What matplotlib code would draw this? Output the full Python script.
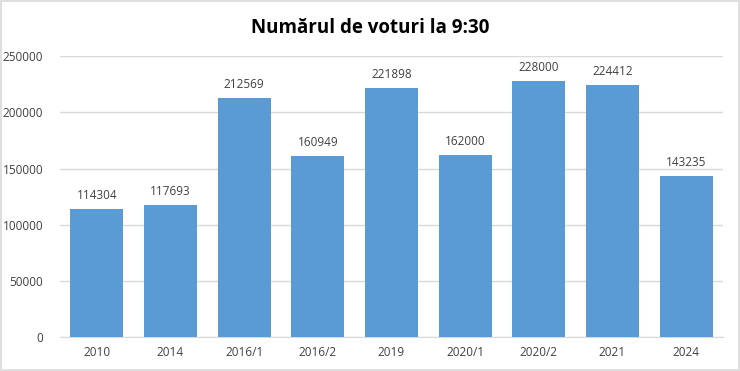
import matplotlib
matplotlib.use("Agg")

import matplotlib.pyplot as plt
from matplotlib.patches import Rectangle

# ---------------- Data ----------------
categories = ["2010", "2014", "2016/1", "2016/2", "2019", "2020/1", "2020/2", "2021", "2024"]
votes = [114304, 117693, 212569, 160949, 221898, 162000, 228000, 224412, 143235]

plt.rcParams["font.family"] = ["Open Sans", "DejaVu Sans"]

fig = plt.figure(figsize=(7.4, 3.71), dpi=100)
ax = fig.add_axes([0.081, 0.091, 0.896, 0.758])

x = range(len(categories))
ax.bar(x, votes, width=0.72, color="#5B9BD5", zorder=3)

for xi, v in zip(x, votes):
    ax.text(xi, v + 6000, str(v), ha="center", va="bottom", fontsize=8.5, color="#404040")

ax.set_xlim(-0.5, len(categories) - 0.5)
ax.set_ylim(0, 250000)
ax.set_yticks(range(0, 250001, 50000))
ax.set_xticks(list(x))
ax.set_xticklabels(categories)
ax.tick_params(axis="both", length=0, labelsize=8.5, colors="#404040")
ax.tick_params(axis="y", pad=12)
ax.tick_params(axis="x", pad=6)
ax.grid(axis="y", color="#D9D9D9", linewidth=1, zorder=0)
for s in ["top", "right", "left"]:
    ax.spines[s].set_visible(False)
ax.spines["bottom"].set_color("#D9D9D9")

fig.text(0.5, 0.925, "Numărul de voturi la 9:30", ha="center", va="center",
         fontsize=13.5, fontweight="bold", color="black")

# chart border
fig.patches.append(Rectangle((0.002, 0.003), 0.996, 0.994, transform=fig.transFigure,
                             fill=False, edgecolor="#D9D9D9", linewidth=1.2))

plt.savefig("out.png", dpi=100)
plt.close()
